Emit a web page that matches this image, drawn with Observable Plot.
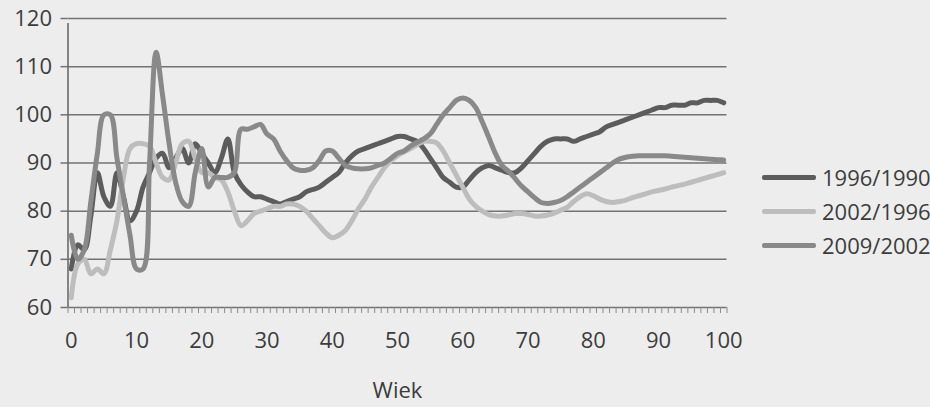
<!DOCTYPE html>
<html>
<head>
<meta charset="utf-8">
<script src="https://cdn.jsdelivr.net/npm/d3@7"></script>
<script src="https://cdn.jsdelivr.net/npm/@observablehq/plot@0.6"></script>
<style>
  html, body { margin: 0; padding: 0; background: #ededed; }
  #wrap { position: relative; width: 930px; height: 407px; font-family: "Open Sans", sans-serif; color: #3c3c3c; overflow: hidden; }
  #legend { position: absolute; left: 762px; top: 160px; }
  .item { display: flex; align-items: center; height: 34px; font-size: 22px; }
  .swatch { width: 54px; height: 5px; margin-right: 6px; border-radius: 2px; }
</style>
</head>
<body>
<div id="wrap">
  <div id="chart"></div>
  <div id="legend"></div>
</div>
<script>
// Wiek (age) categories 0..100
const ages = d3.range(0, 101);

// Wskaźnik dla kolejnych par lat (per age 0..100)
const ratio1996_1990 = [
  68, 73, 72, 79, 88, 83, 81, 88, 83, 78,
  80, 85, 88, 91, 92, 89, 91, 93, 90, 94,
  92, 90, 88, 91, 95, 88, 85.5, 84, 83, 83,
  82.5, 82, 81.5, 82, 82.5, 83, 84, 84.5, 85, 86,
  87, 88, 90, 91.5, 92.5, 93, 93.5, 94, 94.5, 95,
  95.5, 95.5, 95, 94.5, 93, 91, 89, 87, 86, 85,
  85, 86.5, 88, 89, 89.5, 89, 88.5, 88, 88, 89,
  90.5, 92, 93.5, 94.5, 95, 95, 95, 94.5, 95, 95.5,
  96, 96.5, 97.5, 98, 98.5, 99, 99.5, 100, 100.5, 101,
  101.5, 101.5, 102, 102, 102, 102.5, 102.5, 103, 103, 103,
  102.5
];
const ratio2002_1996 = [
  62, 69, 70, 67, 68, 67, 72, 78, 87, 93,
  94, 94, 93.5, 90, 87, 86.5, 90, 94, 94.5, 91,
  88, 88, 87, 86.5, 84, 80, 77, 78, 79.5, 80,
  80.5, 81, 81, 81.5, 81.5, 81, 80, 78.5, 77, 75.5,
  74.5, 75, 76, 78, 80.5, 82.5, 85, 87, 89, 90.5,
  91.5, 92.3, 93, 93.8, 94.5, 94.5, 94.2, 92.5, 90, 87.5,
  85, 82.5, 81, 80, 79.3, 79, 79, 79.2, 79.5, 79.5,
  79.3, 79, 79, 79.2, 79.6, 80.2, 80.8, 82, 83, 83.6,
  83.2, 82.5, 82, 81.8, 82, 82.3, 82.8, 83.2, 83.6, 84,
  84.3, 84.6, 85, 85.3, 85.6, 86, 86.4, 86.8, 87.2, 87.6,
  88
];
const ratio2009_2002 = [
  75, 70, 72, 82, 92, 100, 100, 91, 83, 75,
  68, 68, 90, 113, 104, 94, 86, 82, 81, 88,
  93, 85, 87, 87, 87, 88, 97, 97, 97.5, 98,
  96, 95, 92.5, 90.5, 89, 88.5, 88.5, 89, 90.5, 92.5,
  92.5, 91, 89.5, 89, 88.8, 88.8, 89, 89.5, 90, 91,
  92, 92.5, 93.5, 94.3, 95, 96, 98, 100, 101.5, 103,
  103.5, 103, 101.5, 98.5, 95.3, 92, 89.5, 88.3, 86.8, 85.2,
  84, 82.8, 81.8, 81.6, 81.8, 82.2, 83, 84, 85, 86,
  87, 88, 89, 90, 90.8, 91.2, 91.4, 91.5, 91.5, 91.5,
  91.5, 91.5, 91.4, 91.3, 91.2, 91.1, 91, 90.9, 90.8, 90.7,
  90.6
];

const seriesNames = ["1996/1990", "2002/1996", "2009/2002"];
const seriesColors = ["#5c5c5c", "#bdbdbd", "#898989"];
const seriesValues = [ratio1996_1990, ratio2002_1996, ratio2009_2002];

const yTicks = [60, 70, 80, 90, 100, 110, 120];
const xTicks = [0, 10, 20, 30, 40, 50, 60, 70, 80, 90, 100];
const xLabel = "Wiek";

// tidy rows for the line mark
const rows = seriesNames.flatMap((name, i) =>
  ages.map((age, j) => ({ series: name, age, value: seriesValues[i][j] }))
);
// category boundaries for the small tick marks
const categoryEdges = ages.map(a => a - 0.5).concat([ages[ages.length - 1] + 0.5]);

const gridColor = "#737373";

const chart = Plot.plot({
  width: 760,
  height: 407,
  marginLeft: 67.5,
  marginRight: 33.5,
  marginTop: 18,
  marginBottom: 100,
  style: { background: "transparent", fontFamily: "Open Sans", fontSize: "22px", color: "#3c3c3c", overflow: "visible" },
  x: { domain: [-0.5, 100.5] },
  y: { domain: [60, 120] },
  color: { domain: seriesNames, range: seriesColors },
  marks: [
    Plot.gridY(yTicks, { stroke: gridColor, strokeOpacity: 1, strokeWidth: 1.5 }),
    Plot.axisY(yTicks, { tickSize: 7, tickPadding: 9, stroke: gridColor, strokeWidth: 1.5, label: null, fontSize: 22 }),
    Plot.axisX(categoryEdges, { tickSize: 6, tickFormat: () => "", stroke: "#8a8a8a", label: null }),
    Plot.axisX(xTicks, { tickSize: 0, tickPadding: 25, label: xLabel, labelAnchor: "center", labelArrow: "none", labelOffset: 90, fontSize: 22 }),
    Plot.ruleX([-0.5], { y1: 60, y2: 120, stroke: "#6a6a6a", strokeWidth: 1.6, insetBottom: -5 }),
    Plot.lineY(rows, { x: "age", y: "value", z: "series", stroke: "series", strokeWidth: 5, curve: "catmull-rom", strokeLinejoin: "round", strokeLinecap: "round" })
  ]
});
document.getElementById("chart").append(chart);

// legend on the right
const legend = document.getElementById("legend");
seriesNames.forEach((name, i) => {
  const item = document.createElement("div");
  item.className = "item";
  const sw = document.createElement("span");
  sw.className = "swatch";
  sw.style.background = seriesColors[i];
  const label = document.createElement("span");
  label.textContent = name;
  item.append(sw, label);
  legend.append(item);
});
</script>
</body>
</html>
